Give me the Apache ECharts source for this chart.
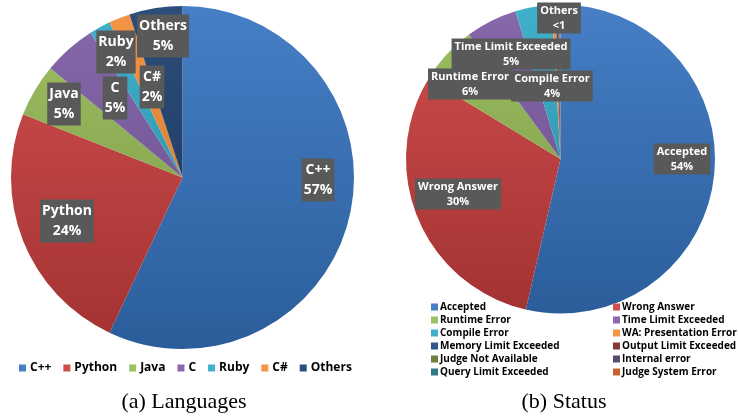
<!DOCTYPE html>
<html>
<head>
<meta charset="utf-8">
<script src="https://cdn.jsdelivr.net/npm/echarts@6/dist/echarts.min.js"></script>
<style>
html, body { margin: 0; padding: 0; background: #fff; }
#chart { width: 738px; height: 417px; }
</style>
</head>
<body>
<div id="chart"></div>
<script>
// (a) languages
const languageNames = ['C++', 'Python', 'Java', 'C', 'Ruby', 'C#', 'Others']
const languageValues = [57, 24, 5, 5, 2, 2, 5]
const languageColors = ['#3674C1', '#CC3F3F', '#96BA55', '#7D5CA5', '#2FA9C6', '#F48C36', '#1B3F6E']

// (b) status
const statusNames = ['Accepted', 'Wrong Answer', 'Runtime Error', 'Time Limit Exceeded', 'Compile Error',
  'WA: Presentation Error', 'Memory Limit Exceeded', 'Output Limit Exceeded', 'Judge Not Available',
  'Internal error', 'Query Limit Exceeded', 'Judge System Error']
const statusValues = [53.6, 30.1, 6.2, 5.4, 3.8, 0.4, 0.25, 0.1, 0.05, 0.04, 0.03, 0.03]
const statusColors = ['#3674C1', '#CC3F3F', '#96BA55', '#7D5CA5', '#2FA9C6', '#F48C36',
  '#1E4A7E', '#7A2828', '#5F7530', '#4D3B62', '#1E6E7E', '#C0571C']

// label box centres (px), by series then data index
const labelPos = [
  [[318, 180], [67, 221], [64, 104], [115, 98], [116, 52], [152, 87], [163, 36]],
  [[682, 159], [458, 194], [470, 84], [511, 54], [552, 86], [559, 18]]
]

function mix (hex, target, t) {
  const n = parseInt(hex.slice(1), 16)
  const c = [(n >> 16) & 255, (n >> 8) & 255, n & 255].map(v => Math.round(v + (target - v) * t))
  return 'rgb(' + c.join(',') + ')'
}

function fill (hex, y0, y1) {
  return new echarts.graphic.LinearGradient(0, y0, 0, y1, [
    { offset: 0, color: mix(hex, 255, 0.08) },
    { offset: 1, color: mix(hex, 0, 0.2) }
  ], true)
}

const chart = echarts.init(document.getElementById('chart'))

const labelFont = { fontFamily: 'Open Sans', fontWeight: 'bold', color: '#fff', backgroundColor: '#595959' }
const legendText = { fontFamily: 'Open Sans', fontWeight: 'bold', color: '#000' }

const smallSum = statusValues.slice(5).reduce((a, b) => a + b, 0)

const option = {
  animation: false,
  title: [
    { text: '(a) Languages', left: 184, top: 402, padding: 0, textAlign: 'center', textVerticalAlign: 'middle',
      textStyle: { fontFamily: 'Liberation Serif', fontWeight: 'normal', fontSize: 22, color: '#000' } },
    { text: '(b) Status', left: 564, top: 402, padding: 0, textAlign: 'center', textVerticalAlign: 'middle',
      textStyle: { fontFamily: 'Liberation Serif', fontWeight: 'normal', fontSize: 22, color: '#000' } }
  ],
  legend: [
    {
      data: languageNames,
      left: 19, top: 361, padding: 0,
      icon: 'rect', itemWidth: 7, itemHeight: 7, itemGap: 12,
      textStyle: Object.assign({ fontSize: 12, lineHeight: 14, padding: [0, 0, 0, -1] }, legendText)
    },
    {
      data: statusNames.filter((n, i) => i % 2 === 0),
      orient: 'vertical', left: 431, top: 300.5, padding: 0,
      icon: 'rect', itemWidth: 7, itemHeight: 7, itemGap: 0,
      textStyle: Object.assign({ fontSize: 10, lineHeight: 13, padding: [0, 0, 0, -3] }, legendText)
    },
    {
      data: statusNames.filter((n, i) => i % 2 === 1),
      orient: 'vertical', left: 613, top: 300.5, padding: 0,
      icon: 'rect', itemWidth: 7, itemHeight: 7, itemGap: 0,
      textStyle: Object.assign({ fontSize: 10, lineHeight: 13, padding: [0, 0, 0, -3] }, legendText)
    }
  ],
  series: [
    {
      type: 'pie',
      center: [182.5, 177.5],
      radius: 171.5,
      startAngle: 90,
      avoidLabelOverlap: false,
      label: Object.assign({
        show: true, position: 'inside', fontSize: 14, lineHeight: 20, padding: [2, 2, 1, 2],
        formatter: p => p.name + '\n' + p.value + '%'
      }, labelFont),
      labelLine: { show: false },
      labelLayout: p => ({ x: labelPos[0][p.dataIndex][0], y: labelPos[0][p.dataIndex][1], align: 'center', verticalAlign: 'middle' }),
      emphasis: { disabled: true },
      data: languageNames.map((n, i) => ({
        name: n, value: languageValues[i],
        itemStyle: { color: fill(languageColors[i], 6, 349) }
      }))
    },
    {
      type: 'pie',
      center: [560.5, 159],
      radius: 154.5,
      startAngle: 90,
      avoidLabelOverlap: false,
      label: Object.assign({
        show: true, position: 'inside', fontSize: 11, lineHeight: 15, padding: [1, 3, 0, 3],
        formatter: p => p.dataIndex === 5
          ? 'Others\n' + (smallSum < 1 ? '<1' : Math.round(smallSum))
          : p.name + '\n' + Math.round(p.percent) + '%'
      }, labelFont),
      labelLine: { show: false },
      labelLayout: p => p.dataIndex < 6
        ? { x: labelPos[1][p.dataIndex][0], y: labelPos[1][p.dataIndex][1], align: 'center', verticalAlign: 'middle' }
        : {},
      emphasis: { disabled: true },
      data: statusNames.map((n, i) => ({
        name: n, value: statusValues[i],
        label: { show: i < 6 },
        itemStyle: { color: fill(statusColors[i], 4, 313) }
      }))
    }
  ]
}

chart.setOption(option)
window.addEventListener('resize', chart.resize)
</script>
</body>
</html>
